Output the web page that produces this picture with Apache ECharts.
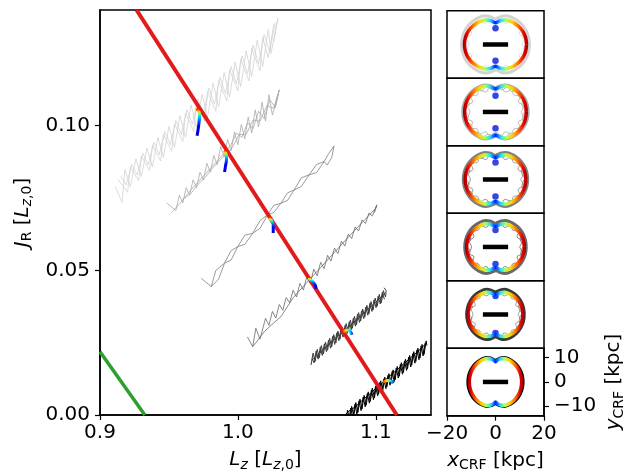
<!DOCTYPE html>
<html><head><meta charset="utf-8">
<script src="https://cdn.jsdelivr.net/npm/echarts@6/dist/echarts.min.js"></script>
<style>html,body{margin:0;padding:0;background:#fff}#c{width:639px;height:474px}</style>
</head><body><div id="c"></div>
<script>
// ---------- main panel data (L_z, J_R) ----------
const xTicks = [0.9, 1.0, 1.1];
const yTicks = [0.00, 0.05, 0.10];
const crfXTicks = [-20, 0, 20];
const crfYTicks = [-10, 0, 10];

const resonanceLine = [[0.9265, 0.140], [1.1152, 0.0]];
const greenLine = [[0.900, 0.0219], [0.9325, 0.0]];

const band1a = [[0.911,0.0790],[0.916,0.0735],[0.918,0.0848],[0.922,0.0790],[0.926,0.0885],[0.930,0.0825],[0.934,0.0923],[0.938,0.0858],[0.942,0.0960],[0.946,0.0890],[0.950,0.0997],[0.954,0.0925],[0.958,0.1035],[0.962,0.0960],[0.966,0.1072],[0.970,0.0995],[0.974,0.1109],[0.978,0.1030],[0.982,0.1147],[0.986,0.1065],[0.990,0.1184],[0.994,0.1100],[0.998,0.1221],[1.002,0.1135],[1.006,0.1259],[1.010,0.1170],[1.014,0.1296],[1.018,0.1205],[1.022,0.1333],[1.024,0.1250],[1.029,0.1372],[1.026,0.1290]];
const band1b = [[0.913,0.0815],[0.920,0.0770],[0.922,0.0858],[0.928,0.0810],[0.930,0.0895],[0.936,0.0845],[0.938,0.0932],[0.944,0.0878],[0.946,0.0970],[0.952,0.0912],[0.954,0.1007],[0.960,0.0945],[0.962,0.1044],[0.968,0.0980],[0.970,0.1081],[0.976,0.1015],[0.978,0.1118],[0.984,0.1050],[0.986,0.1156],[0.992,0.1085],[0.994,0.1193],[1.000,0.1120],[1.002,0.1230],[1.008,0.1155],[1.010,0.1267],[1.016,0.1190],[1.018,0.1304],[1.022,0.1235],[1.026,0.1350]];
const band1c = [[0.915,0.0825],[0.919,0.0795],[0.923,0.0866],[0.927,0.0830],[0.931,0.0905],[0.935,0.0865],[0.939,0.0943],[0.943,0.0900],[0.947,0.0980],[0.951,0.0935],[0.955,0.1018],[0.959,0.0970],[0.963,0.1055],[0.967,0.1005],[0.971,0.1092],[0.975,0.1040],[0.979,0.1130],[0.983,0.1075],[0.987,0.1167],[0.991,0.1110],[0.995,0.1204],[0.999,0.1145],[1.003,0.1242],[1.007,0.1180],[1.011,0.1279],[1.015,0.1215],[1.019,0.1316],[1.023,0.1255],[1.027,0.1355]];

const band2a = [[0.9484,0.0733],[0.9550,0.0707],[0.9575,0.0760],[0.9600,0.0733],[0.9625,0.0786],[0.9650,0.0760],[0.9675,0.0813],[0.9700,0.0786],[0.9725,0.0839],[0.9750,0.0812],[0.9775,0.0870],[0.9800,0.0839],[0.9825,0.0897],[0.9850,0.0865],[0.9875,0.0928],[0.9900,0.0891],[0.9925,0.0953],[0.9950,0.0913],[0.9975,0.0979],[1.0000,0.0934],[1.0025,0.1004],[1.0050,0.0955],[1.0075,0.1030],[1.0100,0.0975],[1.0125,0.1055],[1.0150,0.0996],[1.0175,0.1081],[1.0200,0.1016],[1.0225,0.1107],[1.0250,0.1037],[1.0300,0.1124],[1.0270,0.1060]];
const band2b = [[0.9600,0.0745],[0.9700,0.0800],[0.9800,0.0852],[0.9900,0.0905],[0.9950,0.0935],[0.9990,0.0975],[1.0030,0.0960],[1.0070,0.1010],[1.0110,0.0990],[1.0150,0.1050],[1.0190,0.1025],[1.0230,0.1090],[1.0270,0.1065],[1.0300,0.1124]];
const band2c = [[0.9520,0.0700],[0.9610,0.0748],[0.9660,0.0766],[0.9710,0.0797],[0.9760,0.0820],[0.9810,0.0850],[0.9860,0.0876],[0.9910,0.0900],[0.9960,0.0925],[1.0010,0.0970],[1.0060,0.0970],[1.0110,0.1020],[1.0160,0.1015],[1.0210,0.1070],[1.0260,0.1060],[1.0290,0.1110]];

const band3a = [[0.9734,0.0473],[0.9760,0.0462],[0.9807,0.0444],[0.9840,0.0500],[0.9903,0.0525],[0.9950,0.0568],[0.9999,0.0582],[1.0050,0.0622],[1.0107,0.0628],[1.0160,0.0672],[1.0215,0.0692],[1.0260,0.0725],[1.0312,0.0732],[1.0360,0.0768],[1.0408,0.0778],[1.0460,0.0820],[1.0516,0.0830],[1.0570,0.0866],[1.0625,0.0876],[1.0660,0.0905],[1.0697,0.0930],[1.0680,0.0890],[1.0648,0.0864]];
const band3b = [[0.9807,0.0444],[0.9860,0.0470],[0.9903,0.0525],[0.9950,0.0535],[0.9999,0.0582],[1.0050,0.0590],[1.0107,0.0628],[1.0160,0.0645],[1.0215,0.0692],[1.0260,0.0700],[1.0312,0.0732],[1.0360,0.0742],[1.0408,0.0778],[1.0460,0.0790],[1.0516,0.0830],[1.0570,0.0838],[1.0625,0.0876],[1.0648,0.0864]];

const band4a = [[1.0069,0.0270],[1.0107,0.0236],[1.0130,0.0300],[1.0160,0.0262],[1.0200,0.0334],[1.0225,0.0310],[1.0250,0.0358],[1.0275,0.0335],[1.0300,0.0382],[1.0325,0.0362],[1.0350,0.0406],[1.0375,0.0388],[1.0400,0.0431],[1.0425,0.0408],[1.0450,0.0455],[1.0475,0.0432],[1.0500,0.0479],[1.0525,0.0456],[1.0550,0.0504],[1.0575,0.0481],[1.0600,0.0528],[1.0625,0.0506],[1.0650,0.0552],[1.0675,0.0532],[1.0700,0.0577],[1.0725,0.0558],[1.0750,0.0601],[1.0775,0.0584],[1.0800,0.0625],[1.0825,0.0610],[1.0850,0.0650],[1.0875,0.0636],[1.0900,0.0674],[1.0925,0.0662],[1.0950,0.0698],[1.0975,0.0688],[1.1007,0.0726],[1.0990,0.0700]];
const band4b = [[1.0107,0.0236],[1.0150,0.0262],[1.0191,0.0288],[1.0240,0.0310],[1.0312,0.0340],[1.0400,0.0405],[1.0500,0.0458],[1.0600,0.0510],[1.0700,0.0562],[1.0800,0.0615],[1.0900,0.0665],[1.1000,0.0715],[1.1007,0.0726]];

const band5a = [[1.0530,0.0173],[1.0545,0.0214],[1.0560,0.0185],[1.0575,0.0227],[1.0590,0.0198],[1.0605,0.0240],[1.0620,0.0211],[1.0635,0.0252],[1.0650,0.0224],[1.0665,0.0265],[1.0680,0.0236],[1.0695,0.0278],[1.0710,0.0249],[1.0725,0.0290],[1.0740,0.0262],[1.0755,0.0303],[1.0770,0.0274],[1.0785,0.0316],[1.0800,0.0287],[1.0815,0.0328],[1.0830,0.0300],[1.0845,0.0341],[1.0860,0.0312],[1.0875,0.0354],[1.0890,0.0325],[1.0905,0.0366],[1.0920,0.0338],[1.0935,0.0379],[1.0950,0.0350],[1.0965,0.0392],[1.0980,0.0363],[1.0995,0.0404],[1.1010,0.0376],[1.1025,0.0417],[1.1040,0.0388],[1.1055,0.0430],[1.1070,0.0408],[1.1075,0.0430],[1.1060,0.0440]];
const band5b = [[1.0538,0.0190],[1.0700,0.0262],[1.0850,0.0325],[1.1000,0.0390],[1.1060,0.0418]];
const band5c = [[1.0537,0.0196],[1.0552,0.0180],[1.0567,0.0221],[1.0582,0.0193],[1.0597,0.0234],[1.0612,0.0206],[1.0627,0.0246],[1.0642,0.0219],[1.0657,0.0259],[1.0672,0.0231],[1.0687,0.0272],[1.0702,0.0244],[1.0717,0.0284],[1.0732,0.0257],[1.0747,0.0297],[1.0762,0.0269],[1.0777,0.0310],[1.0792,0.0282],[1.0807,0.0322],[1.0822,0.0295],[1.0837,0.0335],[1.0852,0.0307],[1.0867,0.0348],[1.0882,0.0320],[1.0897,0.0360],[1.0912,0.0333],[1.0927,0.0373],[1.0942,0.0345],[1.0957,0.0386],[1.0972,0.0358],[1.0987,0.0398],[1.1002,0.0371],[1.1017,0.0411],[1.1032,0.0384],[1.1047,0.0424],[1.1062,0.0400]];

const band6a = [[1.0780,-0.0029],[1.0795,0.0017],[1.0810,-0.0017],[1.0825,0.0030],[1.0840,-0.0004],[1.0855,0.0043],[1.0870,0.0009],[1.0885,0.0055],[1.0900,0.0021],[1.0915,0.0068],[1.0930,0.0034],[1.0945,0.0080],[1.0960,0.0047],[1.0975,0.0093],[1.0990,0.0059],[1.1005,0.0105],[1.1020,0.0072],[1.1035,0.0118],[1.1050,0.0084],[1.1065,0.0131],[1.1080,0.0097],[1.1095,0.0143],[1.1110,0.0109],[1.1125,0.0156],[1.1140,0.0122],[1.1155,0.0168],[1.1170,0.0134],[1.1185,0.0181],[1.1200,0.0147],[1.1215,0.0193],[1.1230,0.0160],[1.1245,0.0206],[1.1260,0.0172],[1.1275,0.0219],[1.1290,0.0185],[1.1305,0.0231],[1.1320,0.0197],[1.1335,0.0244],[1.1350,0.0210],[1.1365,0.0256],[1.1370,0.0240]];
const band6b = [[1.0760,-0.0010],[1.0800,0.0012],[1.0850,0.0028],[1.0900,0.0050],[1.0950,0.0070],[1.1000,0.0092],[1.1050,0.0112],[1.1100,0.0135],[1.1150,0.0155],[1.1200,0.0176],[1.1250,0.0197],[1.1300,0.0218],[1.1360,0.0245]];
const band6c = [[1.0788,-0.0005],[1.0803,-0.0025],[1.0818,0.0024],[1.0833,-0.0010],[1.0848,0.0037],[1.0863,0.0003],[1.0878,0.0049],[1.0893,0.0015],[1.0908,0.0062],[1.0923,0.0028],[1.0938,0.0074],[1.0953,0.0041],[1.0968,0.0087],[1.0983,0.0053],[1.0998,0.0099],[1.1013,0.0066],[1.1028,0.0112],[1.1043,0.0078],[1.1058,0.0125],[1.1073,0.0091],[1.1088,0.0137],[1.1103,0.0103],[1.1118,0.0150],[1.1133,0.0116],[1.1148,0.0162],[1.1163,0.0128],[1.1178,0.0175],[1.1193,0.0141],[1.1208,0.0187],[1.1223,0.0154],[1.1238,0.0200],[1.1253,0.0166],[1.1268,0.0212],[1.1283,0.0179],[1.1298,0.0225],[1.1313,0.0191],[1.1328,0.0238],[1.1343,0.0204],[1.1358,0.0250]];

const bandColors = ['#d3d3d3', '#a9a9a9', '#808080', '#696969', '#3a3a3a', '#000000'];

// coloured (time-coded) segments at the resonance crossings
const seg1 = [[0.9697,0.1058],[0.9718,0.1048],[0.9722,0.1034],[0.9715,0.0999],[0.9704,0.0965]];
const seg2 = [[0.9899,0.0913],[0.9917,0.0899],[0.9917,0.0882],[0.9910,0.0861],[0.9903,0.0840]];
const seg3 = [[1.0224,0.0681],[1.0245,0.0671],[1.0256,0.0657],[1.0256,0.0629]];
const seg4 = [[1.0509,0.0472],[1.0538,0.0463],[1.0560,0.0450],[1.0567,0.0436]];
const seg5 = [[1.0762,0.0287],[1.0791,0.0294],[1.0812,0.0290],[1.0827,0.0277]];
const seg6 = [[1.1051,0.0114],[1.1087,0.0119],[1.1108,0.0118],[1.1130,0.0111]];

// ---------- corotating-frame panels (kpc) ----------
const ringShape = [[1.00,0.00],[0.97,0.27],[0.88,0.52],[0.73,0.74],[0.53,0.90],[0.32,0.98],[0.15,0.95],[0.00,0.87],[-0.15,0.95],[-0.32,0.98],[-0.53,0.90],[-0.73,0.74],[-0.88,0.52],[-0.97,0.27],[-1.00,0.00],[-0.97,-0.27],[-0.88,-0.52],[-0.73,-0.74],[-0.53,-0.90],[-0.32,-0.98],[-0.15,-0.95],[0.00,-0.87],[0.15,-0.95],[0.32,-0.98],[0.53,-0.90],[0.73,-0.74],[0.88,-0.52],[0.97,-0.27],[1.00,0.00]];
const loopShapeA = [[0.78,0.00],[0.86,0.22],[0.70,0.36],[0.78,0.56],[0.56,0.60],[0.50,0.80],[0.30,0.70],[0.18,0.84],[0.00,0.72],[-0.18,0.84],[-0.30,0.70],[-0.50,0.80],[-0.56,0.60],[-0.78,0.56],[-0.70,0.36],[-0.86,0.22],[-0.78,0.00],[-0.86,-0.22],[-0.70,-0.36],[-0.78,-0.56],[-0.56,-0.60],[-0.50,-0.80],[-0.30,-0.70],[-0.18,-0.84],[0.00,-0.72],[0.18,-0.84],[0.30,-0.70],[0.50,-0.80],[0.56,-0.60],[0.78,-0.56],[0.70,-0.36],[0.86,-0.22],[0.78,0.00]];
const loopShapeB = [[0.92,0.05],[0.80,0.30],[0.88,0.45],[0.70,0.55],[0.72,0.75],[0.48,0.72],[0.40,0.90],[0.18,0.78],[0.05,0.92],[-0.10,0.78],[-0.28,0.92],[-0.42,0.74],[-0.66,0.80],[-0.70,0.56],[-0.90,0.46],[-0.80,0.28],[-0.93,0.05],[-0.82,-0.15],[-0.90,-0.35],[-0.72,-0.48],[-0.74,-0.70],[-0.50,-0.72],[-0.42,-0.90],[-0.20,-0.78],[-0.05,-0.92],[0.12,-0.80],[0.30,-0.92],[0.45,-0.74],[0.66,-0.80],[0.70,-0.56],[0.90,-0.44],[0.82,-0.25],[0.92,0.05]];
const ringRx = [12.8, 12.7, 12.5, 11.9, 11.3, 10.8];
const ringRy = [10.3, 10.9, 10.4, 9.7, 9.3, 9.9];
const grayRx = [14.0, 13.5, 13.3, 12.7, 11.9, 11.4];
const grayRy = [12.4, 11.7, 11.7, 11.5, 10.9, 10.6];
const loopOpacity = [1, 1, 1, 1, 0.6, 0];
const dotY = [6.7, 6.7, 7.0, 7.0, 7.6, 8.4];
const barX = [-5.2, 5.2];

const FONT = 'DejaVu Sans';
const chart = echarts.init(document.getElementById('c'), null, {renderer: 'canvas'});
const LG = echarts.graphic.LinearGradient;

const rich = {
  i: {fontFamily: FONT, fontSize: 20, fontStyle: 'italic', lineHeight: 24, color: '#000'},
  s: {fontFamily: FONT, fontSize: 14, fontStyle: 'italic', lineHeight: 10, verticalAlign: 'bottom', color: '#000'},
  t: {fontFamily: FONT, fontSize: 14, lineHeight: 10, verticalAlign: 'bottom', color: '#000'}
};
const nameStyle = {fontFamily: FONT, fontSize: 20, color: '#000', lineHeight: 24, rich: rich};
const labStyle = {fontFamily: FONT, fontSize: 20, color: '#000'};
const minus = v => (v < 0 ? '\u2212' + Math.abs(v) : String(v));

const grids = [{left: 100, top: 10, width: 331, height: 405}];
const xAxes = [{
  gridIndex: 0, type: 'value', min: 0.9, max: 1.14,
  axisLine: {show: true, onZero: false, lineStyle: {color: '#000', width: 1.5}},
  axisTick: {show: true, length: 5, lineStyle: {color: '#000', width: 1.2}, customValues: xTicks},
  axisLabel: Object.assign({customValues: xTicks, formatter: v => v.toFixed(1), margin: 8}, labStyle),
  splitLine: {show: false},
  name: '{i|L}{s|z} [{i|L}{s|z}{t|,0}]', nameLocation: 'middle', nameGap: 33, nameTextStyle: nameStyle
}];
const yAxes = [{
  gridIndex: 0, type: 'value', min: 0, max: 0.14,
  axisLine: {show: true, onZero: false, lineStyle: {color: '#000', width: 1.5}},
  axisTick: {show: true, length: 5, lineStyle: {color: '#000', width: 1.2}, customValues: yTicks},
  axisLabel: Object.assign({customValues: yTicks, formatter: v => v.toFixed(2), margin: 10}, labStyle),
  splitLine: {show: false},
  name: '{i|J}{t|R} [{i|L}{s|z}{t|,0}]', nameLocation: 'middle', nameGap: 60, nameRotate: 90, nameTextStyle: nameStyle
}];

const panelTop = 10.7, panelH = 67.5;
for (let i = 0; i < 6; i++) {
  const last = i === 5;
  grids.push({left: 447, top: panelTop + panelH * i, width: 97, height: panelH});
  xAxes.push({
    gridIndex: i + 1, type: 'value', min: -20, max: 20,
    axisLine: {show: last, onZero: false, lineStyle: {color: '#000', width: 1.5}},
    axisTick: {show: last, length: 5, lineStyle: {color: '#000', width: 1.2}, customValues: crfXTicks},
    axisLabel: Object.assign({show: last, customValues: crfXTicks, formatter: minus, margin: 8}, labStyle),
    splitLine: {show: false},
    name: last ? '{i|x}{t|CRF} [kpc]' : '', nameLocation: 'middle', nameGap: 33, nameTextStyle: nameStyle
  });
  yAxes.push({
    gridIndex: i + 1, type: 'value', min: -13.9, max: 13.9, position: 'right',
    axisLine: {show: last, onZero: false, lineStyle: {color: '#000', width: 1.5}},
    axisTick: {show: last, length: 5, lineStyle: {color: '#000', width: 1.2}, customValues: crfYTicks},
    axisLabel: Object.assign({show: last, customValues: crfYTicks, formatter: minus, margin: 10}, labStyle),
    splitLine: {show: false},
    name: last ? '{i|y}{t|CRF} [kpc]' : '', nameLocation: 'middle', nameGap: 58, nameRotate: 90, nameTextStyle: nameStyle
  });
}
grids.forEach(g => Object.assign(g, {show: true, borderColor: '#000', borderWidth: 1.5, backgroundColor: 'rgba(0,0,0,0)', containLabel: false, outerBoundsMode: 'none'}));

const series = [];
function line(gi, data, color, width, extra) {
  series.push(Object.assign({
    type: 'line', xAxisIndex: gi, yAxisIndex: gi, data: data, symbol: 'none', showSymbol: false,
    lineStyle: {color: color, width: width}, silent: true, clip: true, animation: false
  }, extra || {}));
}
const bands = [[band1a, band1b, band1c], [band2a, band2b, band2c], [band3a, band3b], [band4a, band4b], [band5a, band5b, band5c], [band6a, band6b, band6c]];
bands.forEach((strands, b) => {
  const w = b >= 4 ? 1.0 : 0.8;
  strands.forEach(s => line(0, s, bandColors[b], w));
});
line(0, greenLine, '#2ca02c', 3.5);
line(0, resonanceLine, '#e31a1c', 4);
const vJet = () => new LG(0, 0, 0, 1, [
  {offset: 0, color: '#900000'}, {offset: 0.08, color: '#ff2000'}, {offset: 0.16, color: '#ffd800'},
  {offset: 0.24, color: '#60ff90'}, {offset: 0.32, color: '#00d0ff'}, {offset: 0.45, color: '#0060ff'},
  {offset: 0.6, color: '#0000ff'}, {offset: 1, color: '#0000c0'}]);
const hJet = () => new LG(0, 0, 1, 0, [
  {offset: 0, color: '#c00000'}, {offset: 0.2, color: '#ff5000'}, {offset: 0.4, color: '#ffe000'},
  {offset: 0.55, color: '#60ff90'}, {offset: 0.7, color: '#00c0ff'}, {offset: 0.85, color: '#0030ff'},
  {offset: 1, color: '#0000d0'}]);
[seg1, seg2, seg3, seg4].forEach(s => line(0, s, vJet(), 3, {smooth: 0.4}));
[seg5, seg6].forEach(s => line(0, s, hJet(), 3, {smooth: 0.4}));

const ringJet = () => new LG(0, 0, 1, 0, [
  {offset: 0, color: '#8a0000'}, {offset: 0.07, color: '#e00000'}, {offset: 0.16, color: '#ff6a00'},
  {offset: 0.25, color: '#ffd000'}, {offset: 0.34, color: '#b0ff50'}, {offset: 0.42, color: '#20e0ff'},
  {offset: 0.5, color: '#0020ff'}, {offset: 0.58, color: '#20e0ff'}, {offset: 0.66, color: '#b0ff50'},
  {offset: 0.75, color: '#ffd000'}, {offset: 0.84, color: '#ff6a00'}, {offset: 0.93, color: '#e00000'},
  {offset: 1, color: '#8a0000'}]);
const scale = (shape, rx, ry) => shape.map(p => [p[0] * rx, p[1] * ry]);
for (let i = 0; i < 6; i++) {
  const gi = i + 1, col = bandColors[i];
  if (loopOpacity[i] > 0) {
    line(gi, scale(loopShapeA, grayRx[i], grayRy[i]), col, 0.8, {smooth: 0.5, lineStyle: {color: col, width: 0.8, opacity: loopOpacity[i]}});
    line(gi, scale(loopShapeB, grayRx[i], grayRy[i]), col, 0.8, {smooth: 0.5, lineStyle: {color: col, width: 0.8, opacity: loopOpacity[i]}});
  }
  line(gi, scale(ringShape, grayRx[i], grayRy[i] * 0.97), col, 3, {smooth: 0.35});
  line(gi, scale(ringShape, ringRx[i], ringRy[i]), ringJet(), 3.5, {smooth: 0.35});
  line(gi, [[barX[0], 0], [barX[1], 0]], '#000', 4.5);
  series.push({
    type: 'scatter', xAxisIndex: gi, yAxisIndex: gi, symbolSize: i === 5 ? 4 : 6.5, silent: true, animation: false,
    itemStyle: {color: '#0018e0'}, data: [[0, dotY[i]], [0, -dotY[i]]]
  });
}

chart.setOption({
  backgroundColor: '#fff', animation: false,
  grid: grids, xAxis: xAxes, yAxis: yAxes, series: series
});
</script></body></html>
